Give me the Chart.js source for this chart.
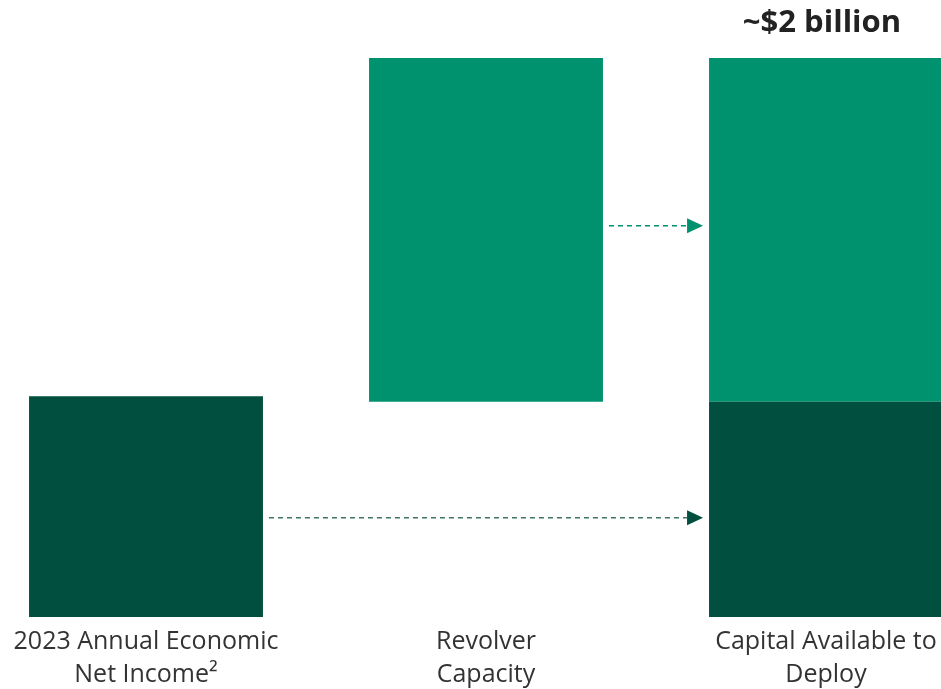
<!DOCTYPE html>
<html>
<head>
<meta charset="utf-8">
<script src="https://cdn.jsdelivr.net/npm/chart.js@4"></script>
<style>
html,body{margin:0;padding:0;background:#fff;overflow:hidden;width:941px;height:689px;}
#wrap{position:absolute;left:-24px;top:0;width:1020px;height:689px;}
</style>
</head>
<body>
<div id="wrap"><canvas id="c" width="1020" height="689"></canvas></div>
<script>
// Data (billions USD)
const categories = [["2023 Annual Economic", "Net Income\u00B2"], ["Revolver", "Capacity"], ["Capital Available to", "Deploy"]];
const netIncomeValues = [0.79, null, 0.77];
const revolverValues = [null, [0.77, 2.0], [0.77, 2.0]];
const totalLabel = "~$2 billion";
const arrowLevels = [1.40, 0.355]; // value levels of connector arrows
const arrowFrom = [1, 0];           // source category index for each arrow
const arrowTo = [2, 2];

const DARK = "#004F3F";
const MID = "#00916F";

const annotations = {
  id: "annotations",
  afterDatasetsDraw(chart) {
    const ctx = chart.ctx;
    const y = chart.scales.y;
    const metaDark = chart.getDatasetMeta(0);
    const metaMid = chart.getDatasetMeta(1);
    const top = metaMid.data[2];
    ctx.save();
    ctx.font = "bold 31px 'Open Sans', sans-serif";
    ctx.fillStyle = "#222";
    ctx.textAlign = "center";
    ctx.textBaseline = "middle";
    ctx.fillText(totalLabel, top.x - 4, top.y - 35);
    const colors = [MID, DARK];
    const lineColors = [MID, "#3E7466"];
    arrowLevels.forEach((lvl, i) => {
      const src = (arrowFrom[i] === 1 ? metaMid : metaDark).data[arrowFrom[i]];
      const dst = metaDark.data[arrowTo[i]];
      const x0 = src.x + src.width / 2 + 6;
      const x1 = dst.x - dst.width / 2 - 6;
      const yy = y.getPixelForValue(lvl);
      ctx.strokeStyle = lineColors[i];
      ctx.lineWidth = 1.5;
      ctx.setLineDash([5, 4]);
      ctx.beginPath();
      ctx.moveTo(x0, yy);
      ctx.lineTo(x1 - 16, yy);
      ctx.stroke();
      ctx.setLineDash([]);
      ctx.fillStyle = colors[i];
      ctx.beginPath();
      ctx.moveTo(x1 - 16, yy - 7.5);
      ctx.lineTo(x1, yy);
      ctx.lineTo(x1 - 16, yy + 7.5);
      ctx.closePath();
      ctx.fill();
    });
    ctx.restore();
  }
};

new Chart(document.getElementById("c"), {
  type: "bar",
  data: {
    labels: categories,
    datasets: [
      { label: "Net income", data: netIncomeValues, backgroundColor: DARK, barPercentage: 1, categoryPercentage: 0.688 },
      { label: "Revolver", data: revolverValues, backgroundColor: MID, barPercentage: 1, categoryPercentage: 0.688 }
    ]
  },
  options: {
    responsive: false,
    animation: false,
    layout: { padding: { top: 2, bottom: 0, left: 0, right: 0 } },
    plugins: { legend: { display: false }, tooltip: { enabled: false } },
    scales: {
      x: {
        stacked: true,
        grid: { display: false, drawTicks: false },
        border: { display: false },
        ticks: { color: "#333", padding: 9, font: { family: "'Open Sans', sans-serif", size: 25, lineHeight: 1.3 }, maxRotation: 0, autoSkip: false },
        afterFit(scale) { scale.height = 72; }
      },
      y: {
        display: false,
        min: 0,
        max: 2.2,
        stacked: false
      }
    }
  },
  plugins: [annotations]
});
</script>
</body>
</html>
